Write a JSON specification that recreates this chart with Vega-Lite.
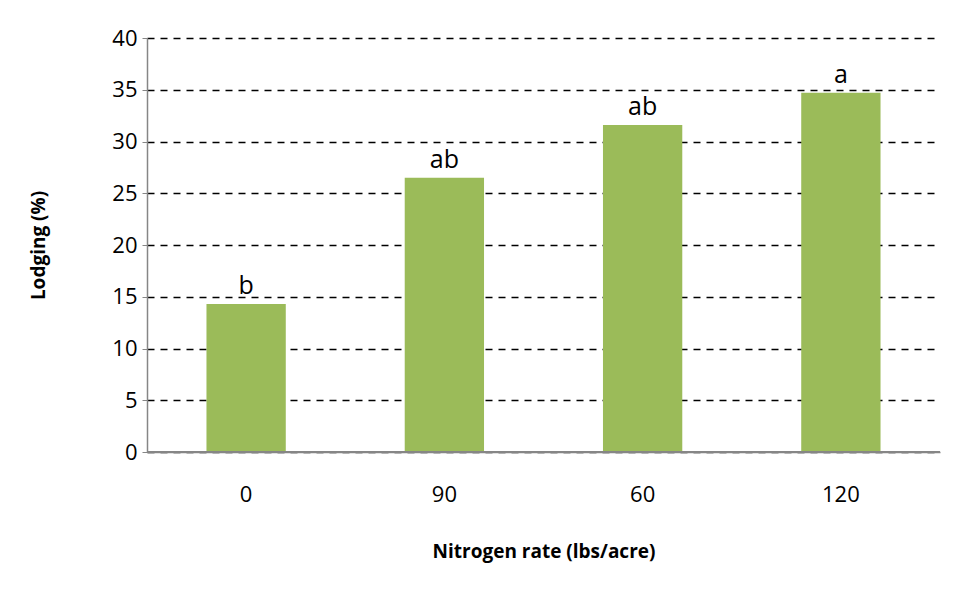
{
  "$schema": "https://vega.github.io/schema/vega-lite/v6.json",
  "autosize": "none",
  "width": 793,
  "height": 414,
  "padding": {"left": 147, "top": 38, "right": 21, "bottom": 147},
  "background": "white",
  "data": {
    "values": [
      {"rate": "0", "lodging": 14.3, "group": "b"},
      {"rate": "90", "lodging": 26.5, "group": "ab"},
      {"rate": "60", "lodging": 31.6, "group": "ab"},
      {"rate": "120", "lodging": 34.7, "group": "a"}
    ]
  },
  "encoding": {
    "x": {
      "field": "rate",
      "type": "nominal",
      "sort": null,
      "scale": {"paddingInner": 0.6, "paddingOuter": 0.3},
      "axis": {
        "title": "Nitrogen rate (lbs/acre)",
        "labelAngle": 0,
        "ticks": false,
        "labelPadding": 32,
        "titlePadding": 37,
        "domainColor": "#868686",
        "domainWidth": 1.5,
        "labelFont": "Open Sans",
        "labelFontSize": 22,
        "labelColor": "black",
        "titleFont": "Open Sans",
        "titleFontSize": 19,
        "titleFontWeight": "bold",
        "titleColor": "black"
      }
    },
    "y": {
      "field": "lodging",
      "type": "quantitative",
      "scale": {"domain": [0, 40]},
      "axis": {
        "title": "Lodging (%)",
        "values": [0, 5, 10, 15, 20, 25, 30, 35, 40],
        "tickSize": 5,
        "tickColor": "#868686",
        "labelPadding": 5,
        "titlePadding": 63,
        "domainColor": "#868686",
        "domainWidth": 1.5,
        "grid": true,
        "gridColor": "black",
        "gridDash": [7, 6],
        "gridWidth": 1.3,
        "labelFont": "Open Sans",
        "labelFontSize": 22,
        "labelColor": "black",
        "titleFont": "Open Sans",
        "titleFontSize": 19,
        "titleFontWeight": "bold",
        "titleColor": "black"
      }
    }
  },
  "layer": [
    {"mark": {"type": "bar", "color": "#9BBB59"}},
    {
      "mark": {"type": "text", "baseline": "alphabetic", "dy": -10, "fontSize": 25, "font": "Open Sans", "color": "black"},
      "encoding": {"text": {"field": "group"}}
    },
    {
      "mark": {"type": "rule", "color": "#868686", "strokeWidth": 1.5},
      "encoding": {"y": {"datum": 0}, "x": null}
    }
  ],
  "config": {
    "view": {"stroke": null}
  }
}
